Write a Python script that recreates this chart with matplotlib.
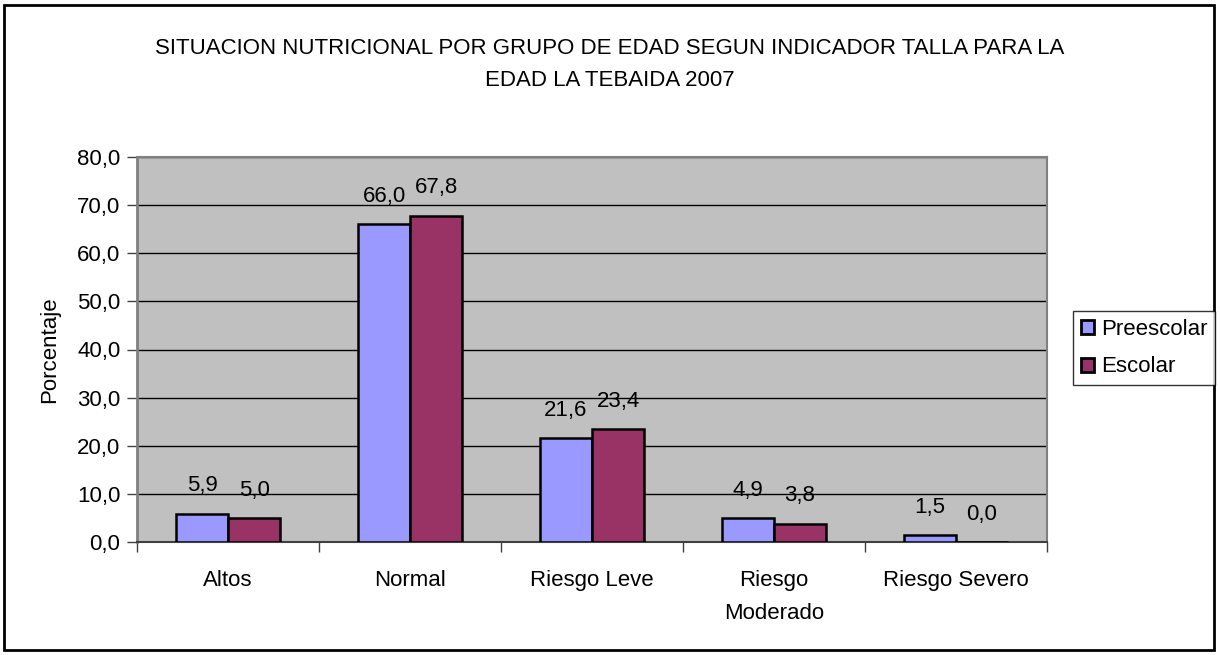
import matplotlib
matplotlib.use("Agg")
import matplotlib.pyplot as plt
from matplotlib.patches import Rectangle, Patch
import numpy as np

categories = ["Altos", "Normal", "Riesgo Leve", "Riesgo\nModerado", "Riesgo Severo"]
preescolar = [5.9, 66.0, 21.6, 4.9, 1.5]
escolar = [5.0, 67.8, 23.4, 3.8, 0.0]
series_names = ["Preescolar", "Escolar"]
yticks = [0, 10, 20, 30, 40, 50, 60, 70, 80]
title = "SITUACION NUTRICIONAL POR GRUPO DE EDAD SEGUN INDICADOR TALLA PARA LA\nEDAD LA TEBAIDA 2007"

plt.rcParams['font.family'] = ['Liberation Sans', 'DejaVu Sans']
FS = 16

fig = plt.figure(figsize=(12.2, 6.55), dpi=100)
ax = fig.add_axes([137/1220, 113/655, 910/1220, 385/655])
ax.set_facecolor("#C0C0C0")

x = np.arange(len(categories))
w = 1/3.5
c1, c2 = "#9999FF", "#993366"
b1 = ax.bar(x - w/2, preescolar, w, color=c1, edgecolor="black", linewidth=1.8, zorder=3)
b2 = ax.bar(x + w/2, escolar, w, color=c2, edgecolor="black", linewidth=1.8, zorder=3)

for bars, vals in ((b1, preescolar), (b2, escolar)):
    for b, v in zip(bars, vals):
        ax.annotate(f"{v:.1f}".replace(".", ","), (b.get_x() + b.get_width()/2, v),
                    xytext=(0, 20), textcoords="offset points", ha="center", va="center",
                    fontsize=FS)

ax.set_xlim(-0.5, len(categories) - 0.5)
ax.set_ylim(0, 80)
ax.set_yticks(yticks)
ax.set_yticklabels([f"{t:.1f}".replace(".", ",") for t in yticks], fontsize=FS)
ax.yaxis.grid(True, color="black", linewidth=1, zorder=0)
ax.set_axisbelow(True)

ax.set_xticks(np.arange(-0.5, len(categories), 1.0))
ax.set_xticklabels([])
ax.set_xticks(x, minor=True)
ax.set_xticklabels(categories, minor=True, fontsize=FS, linespacing=1.75, va="top")
ax.tick_params(axis="x", which="minor", length=0, pad=20)
ax.tick_params(axis="x", which="major", length=7, width=1, color="#404040")
ax.tick_params(axis="y", length=7, width=1, color="#404040", pad=5)

for s in ["top", "right"]:
    ax.spines[s].set_color("#808080")
    ax.spines[s].set_linewidth(1.5)
ax.spines["left"].set_color("#808080")
ax.spines["left"].set_linewidth(2)
ax.spines["bottom"].set_color("#404040")
ax.spines["bottom"].set_linewidth(1.5)

ax.set_ylabel("Porcentaje", fontsize=FS, labelpad=12)

fig.text(0.5, 1 - 48/655, title.split("\n")[0], ha="center", va="center", fontsize=FS)
fig.text(0.5, 1 - 81/655, title.split("\n")[1], ha="center", va="center", fontsize=FS)

handles = [Patch(facecolor=c1, edgecolor="black", linewidth=2),
           Patch(facecolor=c2, edgecolor="black", linewidth=2)]
leg = fig.legend(handles, series_names, loc="upper left",
                 bbox_to_anchor=(1073/1220, 1 - 311/655), fontsize=FS,
                 frameon=True, fancybox=False, edgecolor="black",
                 handlelength=0.6, handleheight=0.6, handletextpad=0.3,
                 borderpad=0.35, labelspacing=0.75, borderaxespad=0)
leg.get_frame().set_linewidth(1)

fig.patches.append(Rectangle((4/1220, 5/655), 1210/1220, 645/655, transform=fig.transFigure,
                             fill=False, edgecolor="black", linewidth=2))

fig.savefig("out.png", dpi=100)
